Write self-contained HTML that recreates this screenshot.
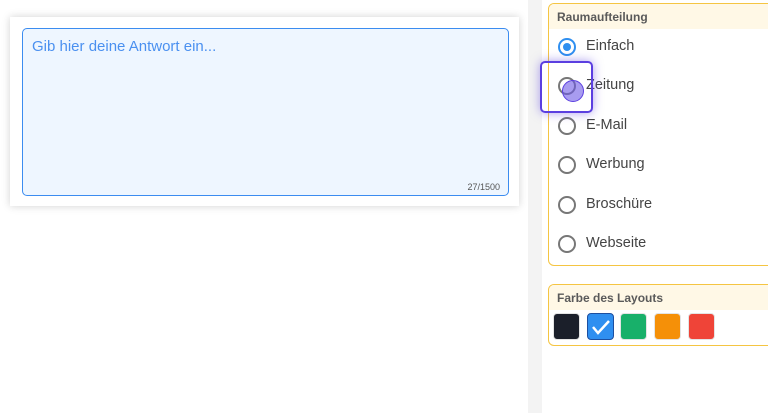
<!DOCTYPE html>
<html><head><meta charset="utf-8"><style>
*{box-sizing:border-box;margin:0;padding:0}
body{width:768px;height:413px;background:#fff;position:relative;overflow:hidden;font-family:"Liberation Sans",sans-serif}
.card{position:absolute;left:10px;top:17px;width:509px;height:189px;background:#fff;box-shadow:0 0 8px rgba(0,0,0,.18)}
.ta{position:absolute;left:22px;top:28px;width:487px;height:168px;background:#eef6ff;border:1px solid #3b8cf0;border-radius:5px}
.ph{position:absolute;left:9px;top:9px;color:#4a90f0;font-size:15px}
.cnt{position:absolute;right:8px;bottom:3px;font-size:9px;color:#555}
.strip{position:absolute;left:528px;top:0;width:14px;height:413px;background:#f3f3f3}
.fs{position:absolute;left:548px;width:230px;border:1px solid #f5c542;border-radius:6px;overflow:hidden;background:#fff}
.hd{background:#fff8e6;height:25px;font-size:12px;font-weight:bold;color:#5a5a5a;padding:6px 0 0 8px}
.r{position:absolute;left:9px;width:18px;height:18px;border:2px solid #777;border-radius:50%;background:#fff}
.r.on{border-color:#2f8ff0}
.r.on::after{content:"";position:absolute;left:3px;top:3px;width:8px;height:8px;border-radius:50%;background:#2f8ff0}
.lb{position:absolute;left:37px;font-size:14.5px;color:#444}
.sw{position:absolute;top:28px;width:27px;height:27px;border-radius:4px;border:1px solid #e4e4e4}
.hl{position:absolute;left:540px;top:61px;width:53px;height:52px;border:2px solid #5b3fe0;border-radius:5px;box-shadow:0 0 10px rgba(91,63,224,.5)}
.dot{position:absolute;left:562px;top:80px;width:22px;height:22px;border-radius:50%;background:rgba(110,90,230,.6);border:1px solid #5b3fe0}
</style></head><body>
<div class="card"></div>
<div class="ta"><div class="ph">Gib hier deine Antwort ein...</div><div class="cnt">27/1500</div></div>
<div class="strip"></div>
<div class="fs" style="top:3px;height:263px">
<div class="hd">Raumaufteilung</div>
<div class="r on" style="top:34px"></div><div class="lb" style="top:34px">Einfach</div>
<div class="r" style="top:73px"></div><div class="lb" style="top:73px">Zeitung</div>
<div class="r" style="top:113px"></div><div class="lb" style="top:113px">E-Mail</div>
<div class="r" style="top:152px"></div><div class="lb" style="top:152px">Werbung</div>
<div class="r" style="top:192px"></div><div class="lb" style="top:192px">Broschüre</div>
<div class="r" style="top:231px"></div><div class="lb" style="top:231px">Webseite</div>
</div>
<div class="fs" style="top:284px;height:62px">
<div class="hd">Farbe des Layouts</div>
<div class="sw" style="left:4px;background:#1b1f2a"></div>
<div class="sw" style="left:38px;background:#2f8ff0;border-color:#1d4fa0"><svg width="25" height="25"><path d="M5 13 L10 19 L21 7" stroke="#fff" stroke-width="2.5" fill="none"/></svg></div>
<div class="sw" style="left:71px;background:#18b06a"></div>
<div class="sw" style="left:105px;background:#f59008"></div>
<div class="sw" style="left:139px;background:#ef4438"></div>
</div>
<div class="hl"></div>
<div class="dot"></div>
</body></html>
